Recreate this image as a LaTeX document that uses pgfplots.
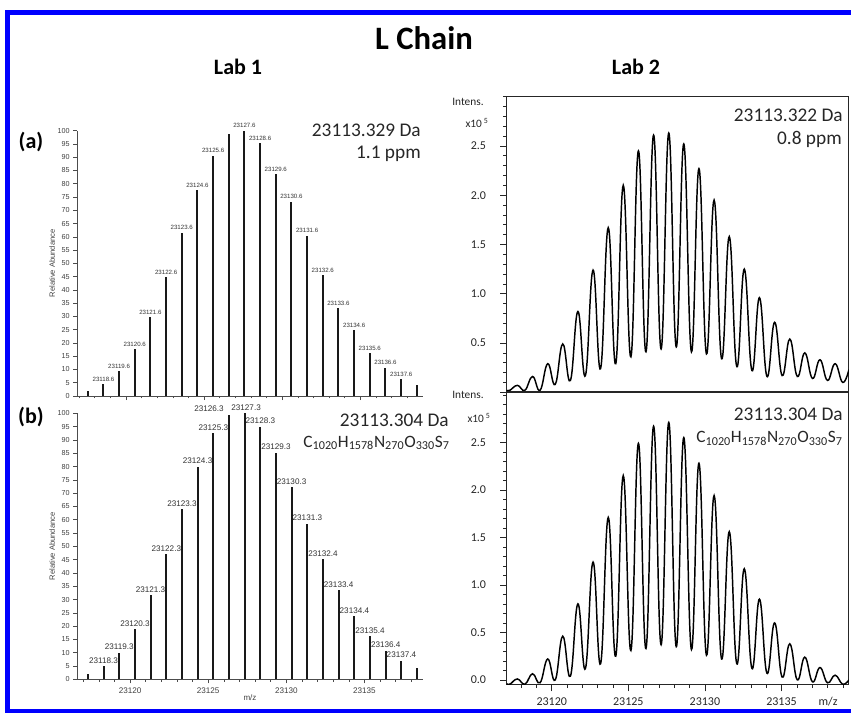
\documentclass[border=0pt]{standalone}
\usepackage{pgfplots}
\pgfplotsset{compat=1.18}
\usepackage{pgfplotstable}
\usepackage{fontspec}
\setmainfont{Carlito}
\newfontfamily\arialfont{Liberation Sans}
\definecolor{frameblue}{RGB}{0,0,255}

% Lab 1, deconvoluted isotope distribution (a): m/z, relative abundance, peak label, label shift (pt)
\pgfplotstableread{
mz ab lab dx
23117.55 2.0 {} 0
23118.56 4.4 23118.6 0
23119.56 9.4 23119.6 0
23120.56 17.7 23120.6 0
23121.56 29.8 23121.6 0
23122.57 44.7 23122.6 0
23123.57 61.6 23123.6 0
23124.57 77.6 23124.6 0
23125.58 90.5 23125.6 0
23126.58 98.7 {} 0
23127.58 100.0 23127.6 0
23128.59 95.2 23128.6 0
23129.59 83.5 23129.6 0
23130.59 73.2 23130.6 0
23131.60 60.4 23131.6 0
23132.60 45.6 23132.6 0
23133.60 33.0 23133.6 0
23134.61 24.9 23134.6 0
23135.61 16.1 23135.6 0
23136.61 10.7 23136.6 0
23137.62 6.3 23137.6 0
23138.62 4.0 {} 0
}\labonea

% Lab 1, theoretical distribution (b)
\pgfplotstableread{
mz ab lab dx
23117.30 2.1 {} 0
23118.30 5.0 23118.3 0
23119.31 10.0 23119.3 0
23120.31 18.9 23120.3 0
23121.31 31.6 23121.3 0
23122.32 47.1 23122.3 0
23123.32 64.0 23123.3 0
23124.32 80.0 23124.3 0
23125.33 92.5 23125.3 0
23126.33 99.4 23126.3 -15
23127.34 100.0 23127.3 1
23128.34 95.0 23128.3 0
23129.34 85.2 23129.3 0
23130.34 72.2 23130.3 0
23131.35 58.5 23131.3 0
23132.35 45.2 23132.4 0
23133.35 33.5 23133.4 0
23134.36 23.8 23134.4 0
23135.36 16.3 23135.4 0
23136.37 10.7 23136.4 0
23137.37 7.0 23137.4 0
23138.37 4.4 {} 0
}\laboneb

% Lab 2, measured profile (a): m/z, intensity (x10^5)
\pgfplotstableread{
mz in
23117.06 0.020
23117.27 0.020
23117.76 0.070
23118.25 0.020
23118.75 0.160
23119.24 0.020
23119.74 0.290
23120.23 0.080
23120.72 0.490
23121.22 0.120
23121.71 0.820
23122.20 0.170
23122.70 1.240
23123.19 0.240
23123.69 1.670
23124.18 0.290
23124.67 2.100
23125.17 0.360
23125.66 2.450
23126.15 0.410
23126.65 2.610
23127.14 0.440
23127.64 2.630
23128.13 0.460
23128.62 2.520
23129.12 0.410
23129.61 2.270
23130.10 0.390
23130.60 1.950
23131.09 0.340
23131.59 1.580
23132.08 0.260
23132.57 1.250
23133.07 0.220
23133.56 0.960
23134.05 0.160
23134.55 0.710
23135.04 0.170
23135.54 0.540
23136.03 0.160
23136.52 0.400
23137.02 0.140
23137.51 0.330
23138.00 0.120
23138.50 0.290
23138.99 0.100
23139.40 0.230
}\labtwoa

% Lab 2, simulated profile (b)
\pgfplotstableread{
mz in
23117.06 -0.040
23117.27 -0.045
23117.76 0.010
23118.25 -0.045
23118.75 0.065
23119.24 -0.030
23119.74 0.220
23120.23 0.000
23120.72 0.460
23121.22 0.040
23121.71 0.800
23122.20 0.120
23122.70 1.240
23123.19 0.170
23123.69 1.710
23124.18 0.250
23124.67 2.150
23125.17 0.310
23125.66 2.490
23126.15 0.330
23126.65 2.670
23127.14 0.370
23127.64 2.710
23128.13 0.350
23128.62 2.550
23129.12 0.320
23129.61 2.280
23130.10 0.260
23130.60 1.940
23131.09 0.220
23131.59 1.560
23132.08 0.170
23132.57 1.170
23133.07 0.120
23133.56 0.850
23134.05 0.070
23134.55 0.600
23135.04 0.030
23135.54 0.380
23136.03 0.000
23136.52 0.240
23137.02 -0.020
23137.51 0.130
23138.00 -0.030
23138.50 0.050
23138.99 -0.045
23139.40 0.000
}\labtwob

\pgfplotsset{
  /pgf/number format/assume math mode=true,
  stickplot/.style={
    scale only axis, clip mode=individual,
    scaled x ticks=false, scaled y ticks=false,
    axis lines*=left,
    axis line style={black!70, line width=0.5pt},
    every tick/.style={black!70, line width=0.4pt},
    tick align=outside, major tick length=3pt, minor tick length=1.8pt,
    ymin=0, ymax=100, ytick={0,5,...,100},
    xtick={23120,23125,23130,23135},
    minor xtick={23117,23118,...,23138},
    tick label style={font=\arialfont\fontsize{5.4}{6}\selectfont, text=black!75},
    xticklabel style={font=\arialfont\fontsize{6.1}{7}\selectfont},
    yticklabel style={xshift=1pt},
    ylabel={Relative Abundance},
    ylabel style={font=\arialfont\fontsize{5.7}{6}\selectfont, text=black!75,
      at={(axis description cs:-0.072,0.5)}, anchor=center},
  },
  sticks/.style={
    ycomb, black!90, line width=1.5pt, mark=none,
    nodes near coords, point meta=explicit symbolic,
    visualization depends on={\thisrow{dx} \as \dx},
    every node near coord/.append style={anchor=south, inner sep=0.4pt,
      yshift=1pt, xshift=\dx pt, text=black!80, #1},
  },
  profile/.style={
    scale only axis, clip mode=individual,
    scaled x ticks=false, scaled y ticks=false,
    axis line style={black!85, line width=0.8pt},
    every tick/.style={black!85, line width=0.5pt},
    tick align=outside, major tick length=5pt, minor tick length=2.5pt,
    xtick pos=lower, ytick pos=left,
    xmin=23117.06, xmax=23139.40,
    ytick={0,0.5,1,1.5,2,2.5},
    minor ytick={0,0.1,...,3},
    tick label style={font=\fontsize{9}{10}\selectfont, text=black!85},
    yticklabel style={xshift=-7pt},
    xticklabel style={yshift=-1pt},
  },
  trace/.style={black, line width=1.1pt, smooth, tension=0.75, mark=none},
}

\newcommand{\formula}{C\textsubscript{1020}H\textsubscript{1578}N\textsubscript{270}O\textsubscript{330}S\textsubscript{7}}

\begin{document}
\begin{tikzpicture}
\useasboundingbox (0pt,0pt) rectangle (638.25pt,-534.75pt);

% Lab 1 (a)
\begin{axis}[stickplot, at={(57.75pt,-297pt)}, anchor=south west,
  width=259.5pt, height=199pt, xmin=23116.865, xmax=23139.015,
  xticklabels={}]
\addplot[sticks={font=\arialfont\fontsize{4.6}{5}\selectfont}]
  table[x=mz, y=ab, meta=lab] {\labonea};
\end{axis}

% Lab 1 (b)
\begin{axis}[stickplot, at={(57.75pt,-509.5pt)}, anchor=south west,
  width=259.5pt, height=199.5pt, xmin=23116.60, xmax=23138.75,
  xticklabels={23120,23125,23130,23135},
  xlabel={m/z},
  xlabel style={font=\arialfont\fontsize{6}{7}\selectfont, text=black!75,
    at={(axis description cs:0.5,-0.07)}, anchor=center}]
\addplot[sticks={font=\arialfont\fontsize{6.1}{7}\selectfont}]
  table[x=mz, y=ab, meta=lab] {\laboneb};
\end{axis}

% Lab 2 (a)
\begin{axis}[profile, at={(380pt,-294.2pt)}, anchor=south west,
  width=256.7pt, height=221.7pt, ymin=0, ymax=3.0,
  xtick=\empty, yticklabels={,0.5,1.0,1.5,2.0,2.5}]
\addplot[trace] table[x=mz, y=in] {\labtwoa};
\end{axis}

% Lab 2 (b)
\begin{axis}[profile, at={(380pt,-513.5pt)}, anchor=south west,
  width=256.7pt, height=219.5pt, ymin=-0.05, ymax=3.03,
  yticklabels={0.0,0.5,1.0,1.5,2.0,2.5},
  xtick={23120,23125,23130,23135},
  xticklabels={23120,23125,23130,23135},
  minor xtick={23118,23119,...,23139}]
\addplot[trace] table[x=mz, y=in] {\labtwob};
\node[font=\fontsize{9}{10}\selectfont, text=black!85] at (rel axis cs:0.939,-0.058) {m/z};
\end{axis}

\begin{scope}[x=0.75pt, y=-0.75pt]
% outer frame
\draw[frameblue, line width=3.2pt] (860,12.5) -- (7.5,12.5) -- (7.5,711) -- (860,711);

% headings
\node[font=\bfseries\fontsize{24.5}{28}\selectfont] at (424,38) {L Chain};
\node[font=\bfseries\fontsize{16.5}{18}\selectfont] at (238,67) {Lab 1};
\node[font=\bfseries\fontsize{16.5}{18}\selectfont] at (636,67) {Lab 2};
\node[font=\bfseries\fontsize{16.5}{18}\selectfont] at (31,142) {(a)};
\node[font=\bfseries\fontsize{16.5}{18}\selectfont] at (31,417) {(b)};

% mass annotations
\begin{scope}[every node/.style={anchor=base east, inner sep=0pt, text=black!85}]
\node[font=\fontsize{14.5}{16}\selectfont] at (421,136.7) {23113.329 Da};
\node[font=\fontsize{14.5}{16}\selectfont] at (421,158.3) {1.1 ppm};
\node[font=\fontsize{14.5}{16}\selectfont] at (449,426.7) {23113.304 Da};
\node[font=\fontsize{13}{15}\selectfont] at (450,447) {\formula};
\node[font=\fontsize{14.5}{16}\selectfont] at (843,121.7) {23113.322 Da};
\node[font=\fontsize{14.5}{16}\selectfont] at (842,144.3) {0.8 ppm};
\node[font=\fontsize{14.5}{16}\selectfont] at (843,420.7) {23113.304 Da};
\node[font=\fontsize{13}{15}\selectfont] at (843,442.7) {\formula};
\end{scope}

% intensity units
\begin{scope}[every node/.style={font=\fontsize{8.5}{9}\selectfont, text=black!85, inner sep=0pt}]
\node at (468,101.7) {Intens.};
\node at (477,123) {x10\,\textsuperscript{5}};
\node at (468,395) {Intens.};
\node at (479,418) {x10\,\textsuperscript{5}};
\end{scope}
\end{scope}
\end{tikzpicture}
\end{document}
